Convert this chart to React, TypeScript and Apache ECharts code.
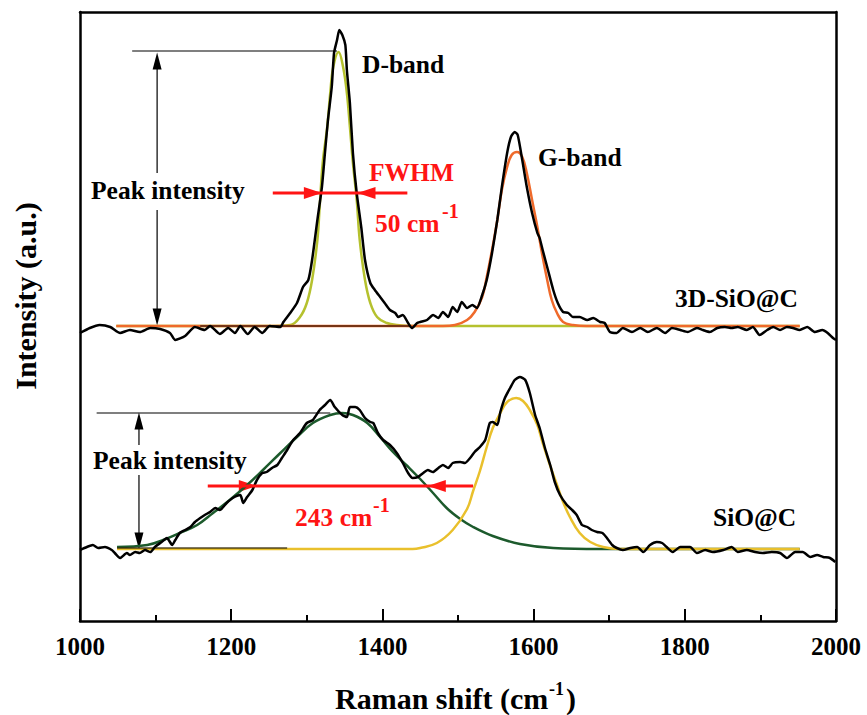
import React, { useEffect, useRef } from 'react';
import * as echarts from 'echarts';

// Raman shift (cm-1) / intensity (a.u., offset spectra)
const topSpectrum: [number, number][] = [
  [1000,288],[1013,293],[1026,296],[1040,294],[1053,288],[1066,291],[1079,289],[1093,293],[1106,292],[1119,288],[1126,281],[1139,285],[1152,294],[1165,291],[1172,295],[1185,287],[1196,293],[1205,288],[1212,295],[1222,287],[1231,294],[1241,288],[1251,295],[1265,294],[1269,299],[1278,308],[1287,318],[1295,334],[1302,341],[1307,361],[1314,401],[1320,434],[1324,468],[1328,501],[1333,534],[1336,568],[1340,581],[1343,591],[1347,586],[1351,576],[1353,551],[1357,518],[1361,468],[1366,428],[1372,394],[1377,361],[1384,338],[1390,331],[1397,324],[1403,318],[1410,311],[1417,308],[1421,304],[1427,306],[1434,298],[1439,293],[1446,298],[1450,299],[1459,301],[1467,306],[1474,303],[1480,309],[1487,304],[1493,314],[1499,309],[1505,319],[1512,313],[1519,316],[1525,313],[1532,326],[1538,341],[1545,368],[1552,401],[1558,434],[1565,468],[1570,484],[1575,489],[1579,486],[1585,461],[1591,434],[1598,408],[1605,388],[1608,383],[1612,371],[1619,351],[1626,331],[1632,318],[1639,309],[1646,308],[1652,304],[1661,304],[1671,301],[1679,303],[1688,299],[1694,298],[1701,289],[1710,288],[1718,293],[1730,289],[1741,293],[1751,289],[1763,293],[1774,288],[1783,293],[1794,291],[1804,289],[1816,293],[1824,291],[1833,289],[1843,293],[1853,294],[1862,293],[1870,294],[1882,291],[1890,294],[1899,286],[1909,291],[1917,294],[1926,291],[1935,294],[1943,293],[1952,291],[1962,294],[1972,289],[1982,291],[1989,288],[1996,283],[2000,281]
];

const topDFit: [number, number][] = [
  [1048,295],[1250,295],[1278,296],[1291,304],[1300,318],[1307,341],[1314,381],[1317,414],[1321,458],[1327,494],[1331,528],[1335,554],[1342,569],[1348,554],[1353,528],[1357,494],[1361,458],[1366,421],[1370,381],[1377,341],[1384,318],[1393,304],[1406,298],[1419,296],[1440,295],[1952,295]
];

const topGFit: [number, number][] = [
  [1048,295],[1480,295],[1496,296],[1512,301],[1522,309],[1532,324],[1538,344],[1545,371],[1552,401],[1558,431],[1565,454],[1571,466],[1578,469],[1585,464],[1591,448],[1598,421],[1605,394],[1611,368],[1618,341],[1624,321],[1631,308],[1639,299],[1652,296],[1670,295],[1952,295]
];

const bottomSpectrum: [number, number][] = [
  [1000,71],[1009,74],[1017,76],[1024,73],[1033,74],[1042,71],[1046,68],[1053,63],[1062,68],[1066,66],[1073,69],[1079,68],[1086,71],[1093,69],[1099,74],[1108,79],[1115,83],[1122,76],[1126,81],[1132,88],[1139,91],[1146,94],[1152,99],[1159,103],[1165,106],[1172,109],[1179,113],[1185,111],[1194,118],[1202,123],[1212,126],[1216,118],[1221,124],[1228,131],[1234,141],[1241,148],[1247,149],[1254,153],[1261,156],[1267,163],[1274,171],[1282,181],[1291,188],[1300,198],[1308,201],[1317,211],[1324,216],[1331,221],[1337,214],[1347,206],[1353,204],[1357,214],[1364,214],[1370,211],[1377,203],[1384,199],[1388,198],[1394,188],[1401,181],[1410,176],[1419,168],[1427,158],[1434,148],[1440,143],[1447,144],[1454,148],[1460,151],[1467,149],[1474,153],[1480,156],[1487,153],[1493,158],[1503,159],[1509,158],[1516,163],[1522,169],[1529,174],[1536,181],[1542,198],[1546,199],[1552,196],[1556,209],[1562,223],[1569,233],[1575,241],[1582,244],[1589,241],[1595,228],[1602,206],[1608,193],[1615,173],[1622,156],[1628,139],[1635,126],[1644,116],[1651,111],[1657,106],[1664,96],[1671,94],[1677,91],[1684,89],[1691,88],[1697,83],[1704,76],[1710,73],[1718,71],[1728,73],[1737,74],[1745,69],[1754,76],[1763,79],[1770,78],[1776,74],[1784,69],[1794,74],[1807,74],[1816,68],[1827,71],[1837,69],[1851,71],[1862,74],[1870,69],[1882,71],[1893,69],[1903,68],[1915,69],[1926,68],[1935,63],[1946,69],[1956,69],[1966,64],[1975,66],[1983,64],[1992,63],[1999,59]
];

const bottomDFit: [number, number][] = [
  [1049,74],[1089,76],[1110,81],[1132,88],[1155,96],[1176,108],[1198,121],[1221,136],[1242,151],[1265,168],[1287,184],[1308,198],[1331,206],[1347,208],[1361,206],[1380,198],[1397,184],[1414,169],[1433,155],[1450,142],[1467,128],[1485,113],[1503,102],[1520,94],[1546,85],[1582,77],[1626,73],[1688,72],[1952,72]
];

const bottomGFit: [number, number][] = [
  [1049,72],[1440,72],[1450,73],[1472,78],[1493,91],[1512,112],[1520,130],[1529,150],[1538,174],[1546,193],[1556,208],[1565,219],[1577,223],[1586,220],[1595,211],[1605,196],[1612,178],[1622,155],[1631,136],[1639,119],[1648,104],[1661,88],[1675,79],[1692,74],[1714,72],[1952,72]
];

// annotation geometry (data units): [start, arrowhead centre]
const refSegments: [number, number][][] = [
  [[1069,570],[1340,570]],
  [[1159,295],[1437,295]],
  [[1022,208],[1331,208]],
  [[1049,73],[1274,73]],
];
const peakArrows: [number, number][][] = [
  [[1102,448],[1102,560]],
  [[1102,411],[1102,304]],
  [[1078,176],[1078,200]],
  [[1078,146],[1078,80]],
];
const fwhmLines: [number, number][][] = [
  [[1255,428],[1433,428]],
  [[1169,135],[1520,135]],
];
const fwhmArrows: [number, number][][] = [
  [[1255,428],[1308,428]],
  [[1433,428],[1379,428]],
  [[1169,135],[1222,135]],
  [[1520,135],[1472,135]],
];

const xTicks = { min: 1000, max: 2000, interval: 200 };

const SERIF = 'Times New Roman';
const RED = '#ff1414';

function lineSeries(name: string, data: number[][], color: string, width: number, smooth: number | boolean) {
  return {
    type: 'line', name, data, showSymbol: false, smooth,
    lineStyle: { color, width },
  };
}

// arrowhead direction -> rotation (triangle points up at 0, ccw positive)
function headRotation(a: number[], b: number[]) {
  if (a[0] === b[0]) return b[1] > a[1] ? 0 : 180;
  return b[0] > a[0] ? -90 : 90;
}

function txt(text: string, x: number, y: number, size: number, color = '#000', align = 'left') {
  return {
    type: 'text', x, y,
    style: { text, fill: color, fontSize: size, fontWeight: 'bold', fontFamily: SERIF, align, verticalAlign: 'middle' },
  };
}

export default function App() {
  const ref = useRef<HTMLDivElement>(null);
  useEffect(() => {
    const chart = echarts.init(ref.current!, null, { renderer: 'svg' });
    const annotation: any[] = [];
    refSegments.forEach((s, i) => annotation.push(lineSeries('ref' + i, s, '#000', 1.2, false)));
    peakArrows.forEach((s, i) => annotation.push(lineSeries('peak' + i, s, '#000', 1.2, false)));
    fwhmLines.forEach((s, i) => annotation.push(lineSeries('fwhm' + i, s, RED, 3, false)));
    annotation.push({
      type: 'scatter', name: 'black heads',
      data: peakArrows.map(([a, b]) => ({ value: b, symbolRotate: headRotation(a, b) })),
      symbol: 'triangle', symbolSize: [9, 17], itemStyle: { color: '#000', opacity: 1 },
    });
    annotation.push({
      type: 'scatter', name: 'red heads',
      data: fwhmArrows.map(([a, b]) => ({ value: b, symbolRotate: headRotation(a, b) })),
      symbol: 'triangle', symbolSize: [12, 18], itemStyle: { color: RED, opacity: 1 },
    });

    const frame = { show: true, onZero: false, lineStyle: { color: '#000', width: 2.5 } };
    chart.setOption({
      animation: false,
      grid: { left: 80, right: 31, top: 12, bottom: 94 },
      xAxis: [
        {
          type: 'value', min: xTicks.min, max: xTicks.max, interval: xTicks.interval, axisLine: frame,
          axisTick: { show: true, inside: true, length: 12, lineStyle: { color: '#000', width: 2 } },
          minorTick: { show: true, splitNumber: 2, length: 6, lineStyle: { color: '#000', width: 2 } },
          splitLine: { show: false },
          axisLabel: { color: '#000', fontSize: 25, fontWeight: 'bold', fontFamily: SERIF, margin: 13, formatter: (v: number) => String(v) },
        },
        { type: 'value', min: xTicks.min, max: xTicks.max, position: 'top', axisLine: frame, axisLabel: { show: false }, axisTick: { show: false }, splitLine: { show: false } },
      ],
      yAxis: [
        { type: 'value', min: 0, max: 609, axisLine: frame, axisLabel: { show: false }, axisTick: { show: false }, splitLine: { show: false } },
        { type: 'value', min: 0, max: 609, position: 'right', axisLine: frame, axisLabel: { show: false }, axisTick: { show: false }, splitLine: { show: false } },
      ],
      series: [
        lineSeries('D fit (3D-SiO@C)', topDFit, '#b5c12e', 2.5, 0.4),
        lineSeries('G fit (3D-SiO@C)', topGFit, '#ef6a2b', 2.5, 0.4),
        lineSeries('D fit (SiO@C)', bottomDFit, '#1c5a2c', 2.5, 0.4),
        lineSeries('G fit (SiO@C)', bottomGFit, '#e9c02c', 2.5, 0.4),
        lineSeries('3D-SiO@C', topSpectrum, '#000', 2.5, 0.2),
        lineSeries('SiO@C', bottomSpectrum, '#000', 2.5, 0.2),
        ...annotation,
      ],
      graphic: [
        { type: 'text', x: 25, y: 296, rotation: Math.PI / 2, style: { text: 'Intensity (a.u.)', fill: '#000', fontSize: 30, fontWeight: 'bold', fontFamily: SERIF, align: 'center', verticalAlign: 'middle' } },
        txt('Raman shift (cm', 335, 698, 30),
        txt('-1', 549, 689, 18),
        txt(')', 566, 698, 30),
        txt('D-band', 362, 64, 25.5),
        txt('G-band', 538, 157, 25.5),
        txt('3D-SiO@C', 675, 298, 25.5),
        txt('SiO@C', 713, 517, 25.5),
        txt('Peak intensity', 91, 190, 25.5),
        txt('Peak intensity', 93, 460, 25.5),
        txt('FWHM', 369, 172, 25.5, RED),
        txt('50 cm', 375, 223, 25.5, RED),
        txt('-1', 442, 211, 20, RED),
        txt('243 cm', 295, 517, 25.5, RED),
        txt('-1', 373, 505, 20, RED),
      ],
    });
    return () => chart.dispose();
  }, []);
  return <div ref={ref} style={{ position: 'fixed', left: 0, top: 0, width: 867, height: 715, background: '#fff' }} />;
}
